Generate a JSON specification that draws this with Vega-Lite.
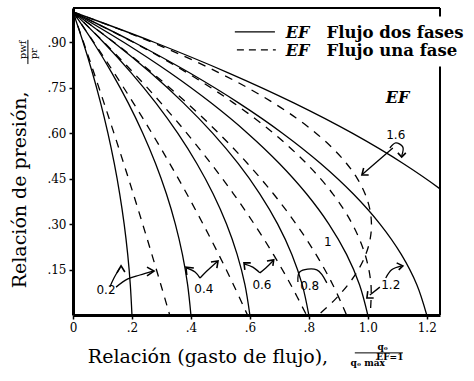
{
  "$schema": "https://vega.github.io/schema/vega-lite/v6.json",
  "width": 367,
  "height": 307,
  "autosize": "none",
  "padding": {"left": 73, "top": 8, "right": 34, "bottom": 66},
  "background": "white",
  "config": {"view": {"stroke": null}, "font": "DejaVu Serif"},
  "datasets": {
    "curves": [
      {"fe": 0.2, "f": "dos", "y": 1.0, "x": 0}, {"fe": 0.2, "f": "dos", "y": 0.9, "x": 0.0344}, {"fe": 0.2, "f": "dos", "y": 0.8, "x": 0.0656}, {"fe": 0.2, "f": "dos", "y": 0.7, "x": 0.0936}, {"fe": 0.2, "f": "dos", "y": 0.6, "x": 0.1184}, {"fe": 0.2, "f": "dos", "y": 0.5, "x": 0.14}, {"fe": 0.2, "f": "dos", "y": 0.4, "x": 0.1584}, {"fe": 0.2, "f": "dos", "y": 0.3, "x": 0.1736}, {"fe": 0.2, "f": "dos", "y": 0.2, "x": 0.1856}, {"fe": 0.2, "f": "dos", "y": 0.1, "x": 0.1944}, {"fe": 0.2, "f": "dos", "y": 0.0, "x": 0.2},
      {"fe": 0.4, "f": "dos", "y": 1.0, "x": 0}, {"fe": 0.4, "f": "dos", "y": 0.9, "x": 0.0688}, {"fe": 0.4, "f": "dos", "y": 0.8, "x": 0.1312}, {"fe": 0.4, "f": "dos", "y": 0.7, "x": 0.1872}, {"fe": 0.4, "f": "dos", "y": 0.6, "x": 0.2368}, {"fe": 0.4, "f": "dos", "y": 0.5, "x": 0.28}, {"fe": 0.4, "f": "dos", "y": 0.4, "x": 0.3168}, {"fe": 0.4, "f": "dos", "y": 0.3, "x": 0.3472}, {"fe": 0.4, "f": "dos", "y": 0.2, "x": 0.3712}, {"fe": 0.4, "f": "dos", "y": 0.1, "x": 0.3888}, {"fe": 0.4, "f": "dos", "y": 0.0, "x": 0.4},
      {"fe": 0.6, "f": "dos", "y": 1.0, "x": 0}, {"fe": 0.6, "f": "dos", "y": 0.9, "x": 0.1032}, {"fe": 0.6, "f": "dos", "y": 0.8, "x": 0.1968}, {"fe": 0.6, "f": "dos", "y": 0.7, "x": 0.2808}, {"fe": 0.6, "f": "dos", "y": 0.6, "x": 0.3552}, {"fe": 0.6, "f": "dos", "y": 0.5, "x": 0.42}, {"fe": 0.6, "f": "dos", "y": 0.4, "x": 0.4752}, {"fe": 0.6, "f": "dos", "y": 0.3, "x": 0.5208}, {"fe": 0.6, "f": "dos", "y": 0.2, "x": 0.5568}, {"fe": 0.6, "f": "dos", "y": 0.1, "x": 0.5832}, {"fe": 0.6, "f": "dos", "y": 0.0, "x": 0.6},
      {"fe": 0.8, "f": "dos", "y": 1.0, "x": 0}, {"fe": 0.8, "f": "dos", "y": 0.9, "x": 0.1376}, {"fe": 0.8, "f": "dos", "y": 0.8, "x": 0.2624}, {"fe": 0.8, "f": "dos", "y": 0.7, "x": 0.3744}, {"fe": 0.8, "f": "dos", "y": 0.6, "x": 0.4736}, {"fe": 0.8, "f": "dos", "y": 0.5, "x": 0.56}, {"fe": 0.8, "f": "dos", "y": 0.4, "x": 0.6336}, {"fe": 0.8, "f": "dos", "y": 0.3, "x": 0.6944}, {"fe": 0.8, "f": "dos", "y": 0.2, "x": 0.7424}, {"fe": 0.8, "f": "dos", "y": 0.1, "x": 0.7776}, {"fe": 0.8, "f": "dos", "y": 0.0, "x": 0.8},
      {"fe": 1.0, "f": "dos", "y": 1.0, "x": 0}, {"fe": 1.0, "f": "dos", "y": 0.9, "x": 0.172}, {"fe": 1.0, "f": "dos", "y": 0.8, "x": 0.328}, {"fe": 1.0, "f": "dos", "y": 0.7, "x": 0.468}, {"fe": 1.0, "f": "dos", "y": 0.6, "x": 0.592}, {"fe": 1.0, "f": "dos", "y": 0.5, "x": 0.7}, {"fe": 1.0, "f": "dos", "y": 0.4, "x": 0.792}, {"fe": 1.0, "f": "dos", "y": 0.3, "x": 0.868}, {"fe": 1.0, "f": "dos", "y": 0.2, "x": 0.928}, {"fe": 1.0, "f": "dos", "y": 0.1, "x": 0.972}, {"fe": 1.0, "f": "dos", "y": 0.0, "x": 1.0},
      {"fe": 1.2, "f": "dos", "y": 1.0, "x": 0}, {"fe": 1.2, "f": "dos", "y": 0.9, "x": 0.2064}, {"fe": 1.2, "f": "dos", "y": 0.8, "x": 0.3936}, {"fe": 1.2, "f": "dos", "y": 0.7, "x": 0.5616}, {"fe": 1.2, "f": "dos", "y": 0.6, "x": 0.7104}, {"fe": 1.2, "f": "dos", "y": 0.5, "x": 0.84}, {"fe": 1.2, "f": "dos", "y": 0.4, "x": 0.9504}, {"fe": 1.2, "f": "dos", "y": 0.3, "x": 1.0416}, {"fe": 1.2, "f": "dos", "y": 0.2, "x": 1.1136}, {"fe": 1.2, "f": "dos", "y": 0.1, "x": 1.1664}, {"fe": 1.2, "f": "dos", "y": 0.0, "x": 1.2},
      {"fe": 1.6, "f": "dos", "y": 1.0, "x": 0}, {"fe": 1.6, "f": "dos", "y": 0.9, "x": 0.2752}, {"fe": 1.6, "f": "dos", "y": 0.8, "x": 0.5248}, {"fe": 1.6, "f": "dos", "y": 0.7, "x": 0.7488}, {"fe": 1.6, "f": "dos", "y": 0.6, "x": 0.9472}, {"fe": 1.6, "f": "dos", "y": 0.5, "x": 1.12}, {"fe": 1.6, "f": "dos", "y": 0.4, "x": 1.2672}, {"fe": 1.6, "f": "dos", "y": 0.3, "x": 1.3888},
      {"fe": 0.2, "f": "una", "y": 1.0, "x": 0}, {"fe": 0.2, "f": "una", "y": 0.9, "x": 0.0357}, {"fe": 0.2, "f": "una", "y": 0.8, "x": 0.0707}, {"fe": 0.2, "f": "una", "y": 0.7, "x": 0.1051}, {"fe": 0.2, "f": "una", "y": 0.6, "x": 0.1389}, {"fe": 0.2, "f": "una", "y": 0.5, "x": 0.172}, {"fe": 0.2, "f": "una", "y": 0.4, "x": 0.2045}, {"fe": 0.2, "f": "una", "y": 0.3, "x": 0.2363}, {"fe": 0.2, "f": "una", "y": 0.2, "x": 0.2675}, {"fe": 0.2, "f": "una", "y": 0.1, "x": 0.2981}, {"fe": 0.2, "f": "una", "y": 0.0, "x": 0.328},
      {"fe": 0.4, "f": "una", "y": 1.0, "x": 0}, {"fe": 0.4, "f": "una", "y": 0.9, "x": 0.0707}, {"fe": 0.4, "f": "una", "y": 0.8, "x": 0.1389}, {"fe": 0.4, "f": "una", "y": 0.7, "x": 0.2045}, {"fe": 0.4, "f": "una", "y": 0.6, "x": 0.2675}, {"fe": 0.4, "f": "una", "y": 0.5, "x": 0.328}, {"fe": 0.4, "f": "una", "y": 0.4, "x": 0.3859}, {"fe": 0.4, "f": "una", "y": 0.3, "x": 0.4413}, {"fe": 0.4, "f": "una", "y": 0.2, "x": 0.4941}, {"fe": 0.4, "f": "una", "y": 0.1, "x": 0.5443}, {"fe": 0.4, "f": "una", "y": 0.0, "x": 0.592},
      {"fe": 0.6, "f": "una", "y": 1.0, "x": 0}, {"fe": 0.6, "f": "una", "y": 0.9, "x": 0.1051}, {"fe": 0.6, "f": "una", "y": 0.8, "x": 0.2045}, {"fe": 0.6, "f": "una", "y": 0.7, "x": 0.2981}, {"fe": 0.6, "f": "una", "y": 0.6, "x": 0.3859}, {"fe": 0.6, "f": "una", "y": 0.5, "x": 0.468}, {"fe": 0.6, "f": "una", "y": 0.4, "x": 0.5443}, {"fe": 0.6, "f": "una", "y": 0.3, "x": 0.6149}, {"fe": 0.6, "f": "una", "y": 0.2, "x": 0.6797}, {"fe": 0.6, "f": "una", "y": 0.1, "x": 0.7387}, {"fe": 0.6, "f": "una", "y": 0.0, "x": 0.792},
      {"fe": 0.8, "f": "una", "y": 1.0, "x": 0}, {"fe": 0.8, "f": "una", "y": 0.9, "x": 0.1389}, {"fe": 0.8, "f": "una", "y": 0.8, "x": 0.2675}, {"fe": 0.8, "f": "una", "y": 0.7, "x": 0.3859}, {"fe": 0.8, "f": "una", "y": 0.6, "x": 0.4941}, {"fe": 0.8, "f": "una", "y": 0.5, "x": 0.592}, {"fe": 0.8, "f": "una", "y": 0.4, "x": 0.6797}, {"fe": 0.8, "f": "una", "y": 0.3, "x": 0.7571}, {"fe": 0.8, "f": "una", "y": 0.2, "x": 0.8243}, {"fe": 0.8, "f": "una", "y": 0.1, "x": 0.8813}, {"fe": 0.8, "f": "una", "y": 0.0, "x": 0.928},
      {"fe": 1.2, "f": "una", "y": 1.0, "x": 0}, {"fe": 1.2, "f": "una", "y": 0.9, "x": 0.2045}, {"fe": 1.2, "f": "una", "y": 0.8, "x": 0.3859}, {"fe": 1.2, "f": "una", "y": 0.7, "x": 0.5443}, {"fe": 1.2, "f": "una", "y": 0.6, "x": 0.6797}, {"fe": 1.2, "f": "una", "y": 0.5, "x": 0.792}, {"fe": 1.2, "f": "una", "y": 0.4, "x": 0.8813}, {"fe": 1.2, "f": "una", "y": 0.3, "x": 0.9475}, {"fe": 1.2, "f": "una", "y": 0.2, "x": 0.9907}, {"fe": 1.2, "f": "una", "y": 0.1, "x": 1.0109}, {"fe": 1.2, "f": "una", "y": 0.0, "x": 1.008},
      {"fe": 1.6, "f": "una", "y": 1.0, "x": 0}, {"fe": 1.6, "f": "una", "y": 0.95, "x": 0.1389}, {"fe": 1.6, "f": "una", "y": 0.9, "x": 0.2675}, {"fe": 1.6, "f": "una", "y": 0.85, "x": 0.3859}, {"fe": 1.6, "f": "una", "y": 0.8, "x": 0.4941}, {"fe": 1.6, "f": "una", "y": 0.75, "x": 0.592}, {"fe": 1.6, "f": "una", "y": 0.7, "x": 0.6797}, {"fe": 1.6, "f": "una", "y": 0.65, "x": 0.7571}, {"fe": 1.6, "f": "una", "y": 0.6, "x": 0.8243}, {"fe": 1.6, "f": "una", "y": 0.55, "x": 0.8813}, {"fe": 1.6, "f": "una", "y": 0.5, "x": 0.928}, {"fe": 1.6, "f": "una", "y": 0.45, "x": 0.9645}, {"fe": 1.6, "f": "una", "y": 0.4, "x": 0.9907}, {"fe": 1.6, "f": "una", "y": 0.35, "x": 1.0067}, {"fe": 1.6, "f": "una", "y": 0.3, "x": 1.0125}, {"fe": 1.6, "f": "una", "y": 0.25, "x": 1.008}, {"fe": 1.6, "f": "una", "y": 0.2, "x": 0.9933}, {"fe": 1.6, "f": "una", "y": 0.15, "x": 0.9683}, {"fe": 1.6, "f": "una", "y": 0.1, "x": 0.9331}, {"fe": 1.6, "f": "una", "y": 0.05, "x": 0.8877}, {"fe": 1.6, "f": "una", "y": 0.0, "x": 0.832}
    ],
    "frame": [
      {"x": 0, "x2": 1.245, "y": 1.013, "y2": 1.013},
      {"x": 1.245, "x2": 1.245, "y": 0, "y2": 0.82},
      {"x": 1.245, "x2": 1.245, "y": 0.985, "y2": 1.013}
    ],
    "bars": [
      {"x": -0.153, "x2": -0.153, "y": 0.828, "y2": 0.908},
      {"x": 0.956, "x2": 1.119, "y": -0.125, "y2": -0.125}
    ],
    "legendLines": [
      {"f": "dos", "x": 0.549, "y": 0.934}, {"f": "dos", "x": 0.685, "y": 0.934},
      {"f": "una", "x": 0.556, "y": 0.875}, {"f": "una", "x": 0.688, "y": 0.875}
    ],
    "shafts": [
      {"id": 1, "s": 1, "x": 0.125, "y": 0.092}, {"id": 1, "s": 2, "x": 0.139, "y": 0.122}, {"id": 1, "s": 3, "x": 0.159, "y": 0.155},
      {"id": 2, "s": 1, "x": 0.146, "y": 0.092}, {"id": 2, "s": 2, "x": 0.186, "y": 0.119}, {"id": 2, "s": 3, "x": 0.227, "y": 0.132}, {"id": 2, "s": 4, "x": 0.271, "y": 0.145},
      {"id": 3, "s": 1, "x": 0.431, "y": 0.122}, {"id": 3, "s": 2, "x": 0.414, "y": 0.142}, {"id": 3, "s": 3, "x": 0.386, "y": 0.155},
      {"id": 4, "s": 1, "x": 0.431, "y": 0.122}, {"id": 4, "s": 2, "x": 0.454, "y": 0.145}, {"id": 4, "s": 3, "x": 0.488, "y": 0.175},
      {"id": 5, "s": 1, "x": 0.634, "y": 0.139}, {"id": 5, "s": 2, "x": 0.61, "y": 0.158}, {"id": 5, "s": 3, "x": 0.583, "y": 0.168},
      {"id": 6, "s": 1, "x": 0.634, "y": 0.139}, {"id": 6, "s": 2, "x": 0.654, "y": 0.155}, {"id": 6, "s": 3, "x": 0.678, "y": 0.178},
      {"id": 7, "s": 1, "x": 0.763, "y": 0.109}, {"id": 7, "s": 2, "x": 0.769, "y": 0.142}, {"id": 7, "s": 3, "x": 0.827, "y": 0.149}, {"id": 7, "s": 4, "x": 0.861, "y": 0.106},
      {"id": 8, "s": 1, "x": 1.041, "y": 0.092}, {"id": 8, "s": 2, "x": 1.007, "y": 0.066},
      {"id": 9, "s": 1, "x": 1.061, "y": 0.122}, {"id": 9, "s": 2, "x": 1.081, "y": 0.149}, {"id": 9, "s": 3, "x": 1.115, "y": 0.162},
      {"id": 10, "s": 1, "x": 1.085, "y": 0.551}, {"id": 10, "s": 2, "x": 0.983, "y": 0.465},
      {"id": 11, "s": 1, "x": 1.075, "y": 0.551}, {"id": 11, "s": 2, "x": 1.095, "y": 0.568}, {"id": 11, "s": 3, "x": 1.119, "y": 0.554}, {"id": 11, "s": 4, "x": 1.115, "y": 0.525}
    ],
    "heads": [
      {"id": 1, "s": 1, "x": 0.149, "y": 0.139}, {"id": 1, "s": 2, "x": 0.163, "y": 0.162}, {"id": 1, "s": 3, "x": 0.176, "y": 0.142},
      {"id": 2, "s": 1, "x": 0.251, "y": 0.158}, {"id": 2, "s": 2, "x": 0.275, "y": 0.145}, {"id": 2, "s": 3, "x": 0.251, "y": 0.129},
      {"id": 3, "s": 1, "x": 0.386, "y": 0.132}, {"id": 3, "s": 2, "x": 0.383, "y": 0.158}, {"id": 3, "s": 3, "x": 0.41, "y": 0.155},
      {"id": 4, "s": 1, "x": 0.468, "y": 0.175}, {"id": 4, "s": 2, "x": 0.492, "y": 0.178}, {"id": 4, "s": 3, "x": 0.488, "y": 0.155},
      {"id": 5, "s": 1, "x": 0.583, "y": 0.149}, {"id": 5, "s": 2, "x": 0.58, "y": 0.172}, {"id": 5, "s": 3, "x": 0.603, "y": 0.172},
      {"id": 6, "s": 1, "x": 0.658, "y": 0.178}, {"id": 6, "s": 2, "x": 0.681, "y": 0.182}, {"id": 6, "s": 3, "x": 0.678, "y": 0.162},
      {"id": 8, "s": 1, "x": 1.0, "y": 0.079}, {"id": 8, "s": 2, "x": 0.997, "y": 0.056}, {"id": 8, "s": 3, "x": 1.02, "y": 0.056},
      {"id": 9, "s": 1, "x": 1.098, "y": 0.172}, {"id": 9, "s": 2, "x": 1.119, "y": 0.162}, {"id": 9, "s": 3, "x": 1.105, "y": 0.149},
      {"id": 10, "s": 1, "x": 0.986, "y": 0.485}, {"id": 10, "s": 2, "x": 0.98, "y": 0.462}, {"id": 10, "s": 3, "x": 1.003, "y": 0.462},
      {"id": 11, "s": 1, "x": 1.102, "y": 0.535}, {"id": 11, "s": 2, "x": 1.115, "y": 0.521}, {"id": 11, "s": 3, "x": 1.129, "y": 0.535}
    ],
    "curveLabels": [
      {"x": 0.112, "y": 0.0825, "t": "0.2"},
      {"x": 0.444, "y": 0.086, "t": "0.4"},
      {"x": 0.641, "y": 0.099, "t": "0.6"},
      {"x": 0.803, "y": 0.096, "t": "0.8"},
      {"x": 0.864, "y": 0.241, "t": "1"},
      {"x": 1.078, "y": 0.099, "t": "1.2"},
      {"x": 1.095, "y": 0.594, "t": "1.6"}
    ]
  },
  "encoding": {
    "x": {
      "field": "x", "type": "quantitative",
      "scale": {"domain": [0, 1.245], "nice": false, "zero": false},
      "axis": {
        "values": [0, 0.2, 0.4, 0.6, 0.8, 1.0, 1.2],
        "labelExpr": "datum.value == 0 ? '0' : datum.value < 1 ? replace(format(datum.value, '.1f'), '0.', '.') : format(datum.value, '.1f')",
        "title": null, "grid": false,
        "domainWidth": 3, "domainColor": "black",
        "tickColor": "black", "tickSize": 4, "tickWidth": 1.5,
        "labelFont": "DejaVu Serif", "labelFontSize": 12, "labelColor": "black",
        "labelPadding": 3, "labelFlush": false
      }
    },
    "y": {
      "field": "y", "type": "quantitative",
      "scale": {"domain": [0, 1.013], "nice": false, "zero": false},
      "axis": {
        "values": [0.15, 0.3, 0.45, 0.6, 0.75, 0.9],
        "labelExpr": "replace(format(datum.value, '.2f'), '0.', '.')",
        "title": null, "grid": false,
        "domainWidth": 3, "domainColor": "black",
        "tickColor": "black", "tickSize": 4, "tickWidth": 1.5,
        "labelFont": "DejaVu Serif", "labelFontSize": 12, "labelColor": "black",
        "labelPadding": 3
      }
    }
  },
  "layer": [
    {
      "data": {"name": "curves"},
      "transform": [{"filter": "datum.f == 'dos'"}],
      "mark": {"type": "line", "color": "black", "strokeWidth": 1.3, "interpolate": "catmull-rom", "clip": true},
      "encoding": {
        "detail": {"field": "fe"},
        "order": {"field": "y", "type": "quantitative", "sort": "descending"}
      }
    },
    {
      "data": {"name": "curves"},
      "transform": [{"filter": "datum.f == 'una'"}],
      "mark": {"type": "line", "color": "black", "strokeWidth": 1.3, "strokeDash": [8, 7], "interpolate": "catmull-rom", "clip": true},
      "encoding": {
        "detail": {"field": "fe"},
        "order": {"field": "y", "type": "quantitative", "sort": "descending"}
      }
    },
    {
      "data": {"name": "frame"},
      "mark": {"type": "rule", "color": "black", "strokeWidth": 2},
      "encoding": {"x2": {"field": "x2"}, "y2": {"field": "y2"}}
    },
    {
      "data": {"name": "bars"},
      "mark": {"type": "rule", "color": "black", "strokeWidth": 1},
      "encoding": {"x2": {"field": "x2"}, "y2": {"field": "y2"}}
    },
    {
      "data": {"name": "legendLines"},
      "transform": [{"filter": "datum.f == 'dos'"}],
      "mark": {"type": "line", "color": "black", "strokeWidth": 1.3},
      "encoding": {}
    },
    {
      "data": {"name": "legendLines"},
      "transform": [{"filter": "datum.f == 'una'"}],
      "mark": {"type": "line", "color": "black", "strokeWidth": 1.3, "strokeDash": [7, 5]},
      "encoding": {}
    },
    {
      "data": {"name": "shafts"},
      "mark": {"type": "line", "color": "black", "strokeWidth": 1.3, "interpolate": "catmull-rom"},
      "encoding": {
        "detail": {"field": "id"},
        "order": {"field": "s", "type": "quantitative"}
      }
    },
    {
      "data": {"name": "heads"},
      "mark": {"type": "line", "color": "black", "strokeWidth": 1.6},
      "encoding": {
        "detail": {"field": "id"},
        "order": {"field": "s", "type": "quantitative"}
      }
    },
    {
      "data": {"name": "curveLabels"},
      "mark": {"type": "text", "font": "DejaVu Sans", "fontSize": 12, "color": "black", "align": "center", "baseline": "middle"},
      "encoding": {"text": {"field": "t"}}
    },
    {
      "data": {"values": [
        {"x": 0.722, "y": 0.931, "t": "EF"},
        {"x": 0.722, "y": 0.872, "t": "EF"},
        {"x": 1.061, "y": 0.716, "t": "EF"}
      ]},
      "mark": {"type": "text", "font": "DejaVu Serif", "fontSize": 16, "fontWeight": "bold", "fontStyle": "italic", "color": "black", "align": "left", "baseline": "middle"},
      "encoding": {"text": {"field": "t"}}
    },
    {
      "data": {"values": [
        {"x": 0.86, "y": 0.931, "t": "Flujo dos fases"},
        {"x": 0.86, "y": 0.872, "t": "Flujo una fase"}
      ]},
      "mark": {"type": "text", "font": "DejaVu Serif", "fontSize": 16.5, "fontWeight": "bold", "color": "black", "align": "left", "baseline": "middle"},
      "encoding": {"text": {"field": "t"}}
    },
    {
      "data": {"values": [{"x": -0.159, "y": 0.413, "t": "Relación de presión,"}]},
      "mark": {"type": "text", "font": "DejaVu Serif", "fontSize": 19, "angle": 270, "color": "black", "align": "center", "baseline": "alphabetic"},
      "encoding": {"text": {"field": "t"}}
    },
    {
      "data": {"values": [
        {"x": -0.159, "y": 0.875, "t": "pwf"},
        {"x": -0.122, "y": 0.862, "t": "pr"}
      ]},
      "mark": {"type": "text", "font": "DejaVu Serif", "fontSize": 10, "angle": 270, "color": "black", "align": "center", "baseline": "alphabetic"},
      "encoding": {"text": {"field": "t"}}
    },
    {
      "data": {"values": [{"x": 0.458, "y": -0.158, "t": "Relación (gasto de flujo),"}]},
      "mark": {"type": "text", "font": "DejaVu Serif", "fontSize": 19, "color": "black", "align": "center", "baseline": "alphabetic"},
      "encoding": {"text": {"field": "t"}}
    },
    {
      "data": {"values": [
        {"x": 1.051, "y": -0.106, "t": "qₒ"},
        {"x": 1.075, "y": -0.137, "t": "EF=1"},
        {"x": 1.0, "y": -0.16, "t": "qₒ máx"}
      ]},
      "mark": {"type": "text", "font": "DejaVu Serif", "fontSize": 9, "fontWeight": "bold", "color": "black", "align": "center", "baseline": "middle"},
      "encoding": {"text": {"field": "t"}}
    }
  ]
}
